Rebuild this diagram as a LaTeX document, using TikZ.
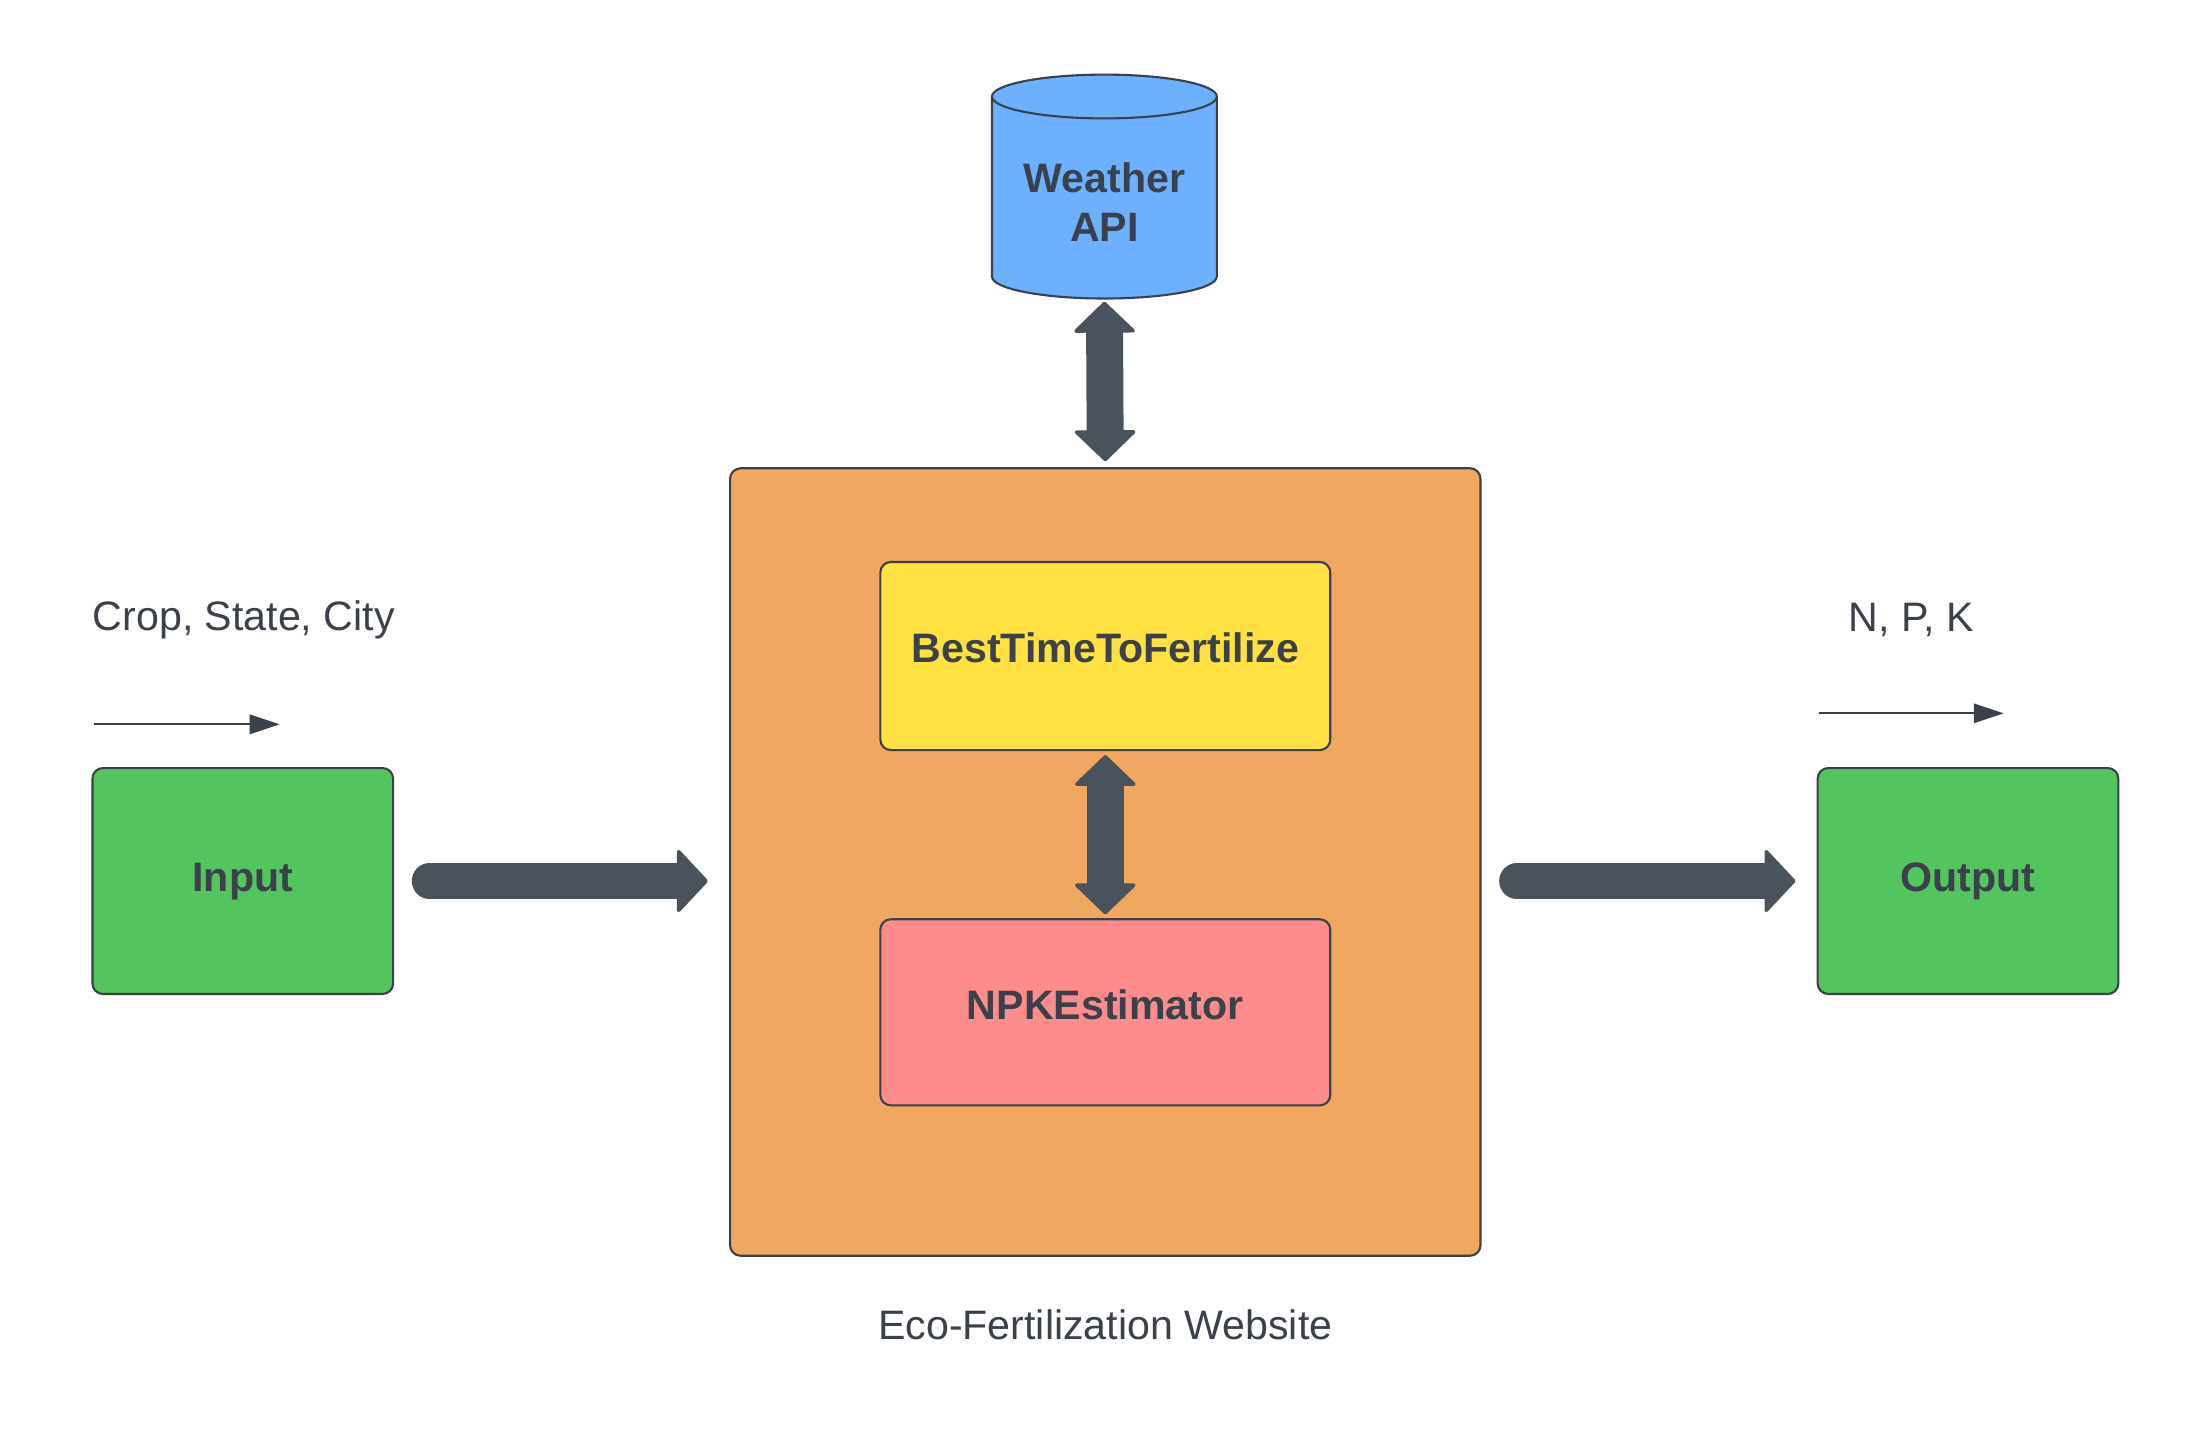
\documentclass[tikz,border=0pt]{standalone}
\usepackage{fontspec}
\setmainfont{Liberation Sans}
\usetikzlibrary{arrows.meta}
\definecolor{ink}{HTML}{3A414A}
\definecolor{arrowgray}{HTML}{4A525C}
\definecolor{boxgreen}{HTML}{54C45E}
\definecolor{boxorange}{HTML}{F0A760}
\definecolor{boxyellow}{HTML}{FFE142}
\definecolor{boxpink}{HTML}{FF8C8C}
\definecolor{dbblue}{HTML}{6CB0FF}
\newcommand\diagfont{\fontsize{11.7pt}{14.1pt}\selectfont}
\tikzset{
  box/.style={draw=ink, line width=0.6pt, rounded corners=3pt, inner sep=0pt,
    text=ink, font=\diagfont\bfseries, text height=3.8pt, text depth=0pt},
  endbox/.style={box, fill=boxgreen, minimum width=3.005cm, minimum height=2.258cm,
    text height=6.2pt},
  dbtext/.style={text=ink, font=\diagfont\bfseries, inner sep=0pt, align=center},
  plaintext/.style={text=ink, font=\diagfont, inner sep=0pt},
  dbshape/.style={draw=ink, line width=0.6pt, fill=dbblue},
  bigarrow/.style={draw=arrowgray, line width=10pt, line cap=round,
    -{Triangle[width=19pt, length=9pt, line width=1pt, round]}},
  bothways/.style={draw=arrowgray, line width=10.5pt,
    {Triangle[width=18.5pt, length=9pt, line width=1pt, round]}-{Triangle[width=18.5pt, length=9pt, line width=1pt, round]}},
  thinarrow/.style={draw=ink, line width=0.6pt, -{Triangle[width=5.5pt, length=8.5pt]}}
}
\begin{document}
\begin{tikzpicture}[x=0.01cm, y=-0.01cm]
  \useasboundingbox (0,0) rectangle (2194,1444);
  % weather api cylinder
  \draw[dbshape] (992,96.5) -- (992,276.6)
    arc[start angle=180, end angle=0, x radius=112.4, y radius=21.9] -- (1216.8,96.5);
  \draw[dbshape] (1104.4,96.5) ellipse [x radius=112.4, y radius=21.9];
  \node[dbtext] (api) at (1104.4,202) {Weather\\API};
  \coordinate (apibottom) at (1104.4,298.5);
  \draw
    (242.8,881) node[endbox] (in){Input}
    (1968,881) node[endbox] (out){Output}
    (1105.3,862) node[box, fill=boxorange, minimum width=7.5cm, minimum height=7.87cm] (web){}
    (1105.3,656) node[box, fill=boxyellow, minimum width=4.497cm, minimum height=1.88cm] (best){BestTimeToFertilize}
    (1105.3,1012.3) node[box, fill=boxpink, minimum width=4.497cm, minimum height=1.86cm] (npk){NPKEstimator};
  \draw
    (243.8,620) node[plaintext] (cropcap){Crop, State, City}
    (1911,619.5) node[plaintext] (npkcap){N, P, K}
    (1105.3,1325) node[plaintext] (webcap){Eco-Fertilization Website};
  \coordinate (inA) at (93.5,724.3);
  \coordinate (inB) at (279.6,724.3);
  \coordinate (outA) at (1818.7,713.3);
  \coordinate (outB) at (2003.7,713.3);
  \begin{scope}[thinarrow]
    \draw (inA) -- (inB);
    \draw (outA) -- (outB);
  \end{scope}
  \draw[bigarrow, shorten <=10pt, shorten >=6pt] (in.east) -- (in.east -| web.west);
  \draw[bigarrow, shorten <=10pt, shorten >=6pt] (out.west -| web.east) -- (out.west);
  \draw[bothways, shorten <=0.9pt, shorten >=1.7pt] (apibottom) -- (web.north);
  \draw[bothways, shorten <=1.1pt, shorten >=1.1pt] (best.south) -- (npk.north);
\end{tikzpicture}
\end{document}
